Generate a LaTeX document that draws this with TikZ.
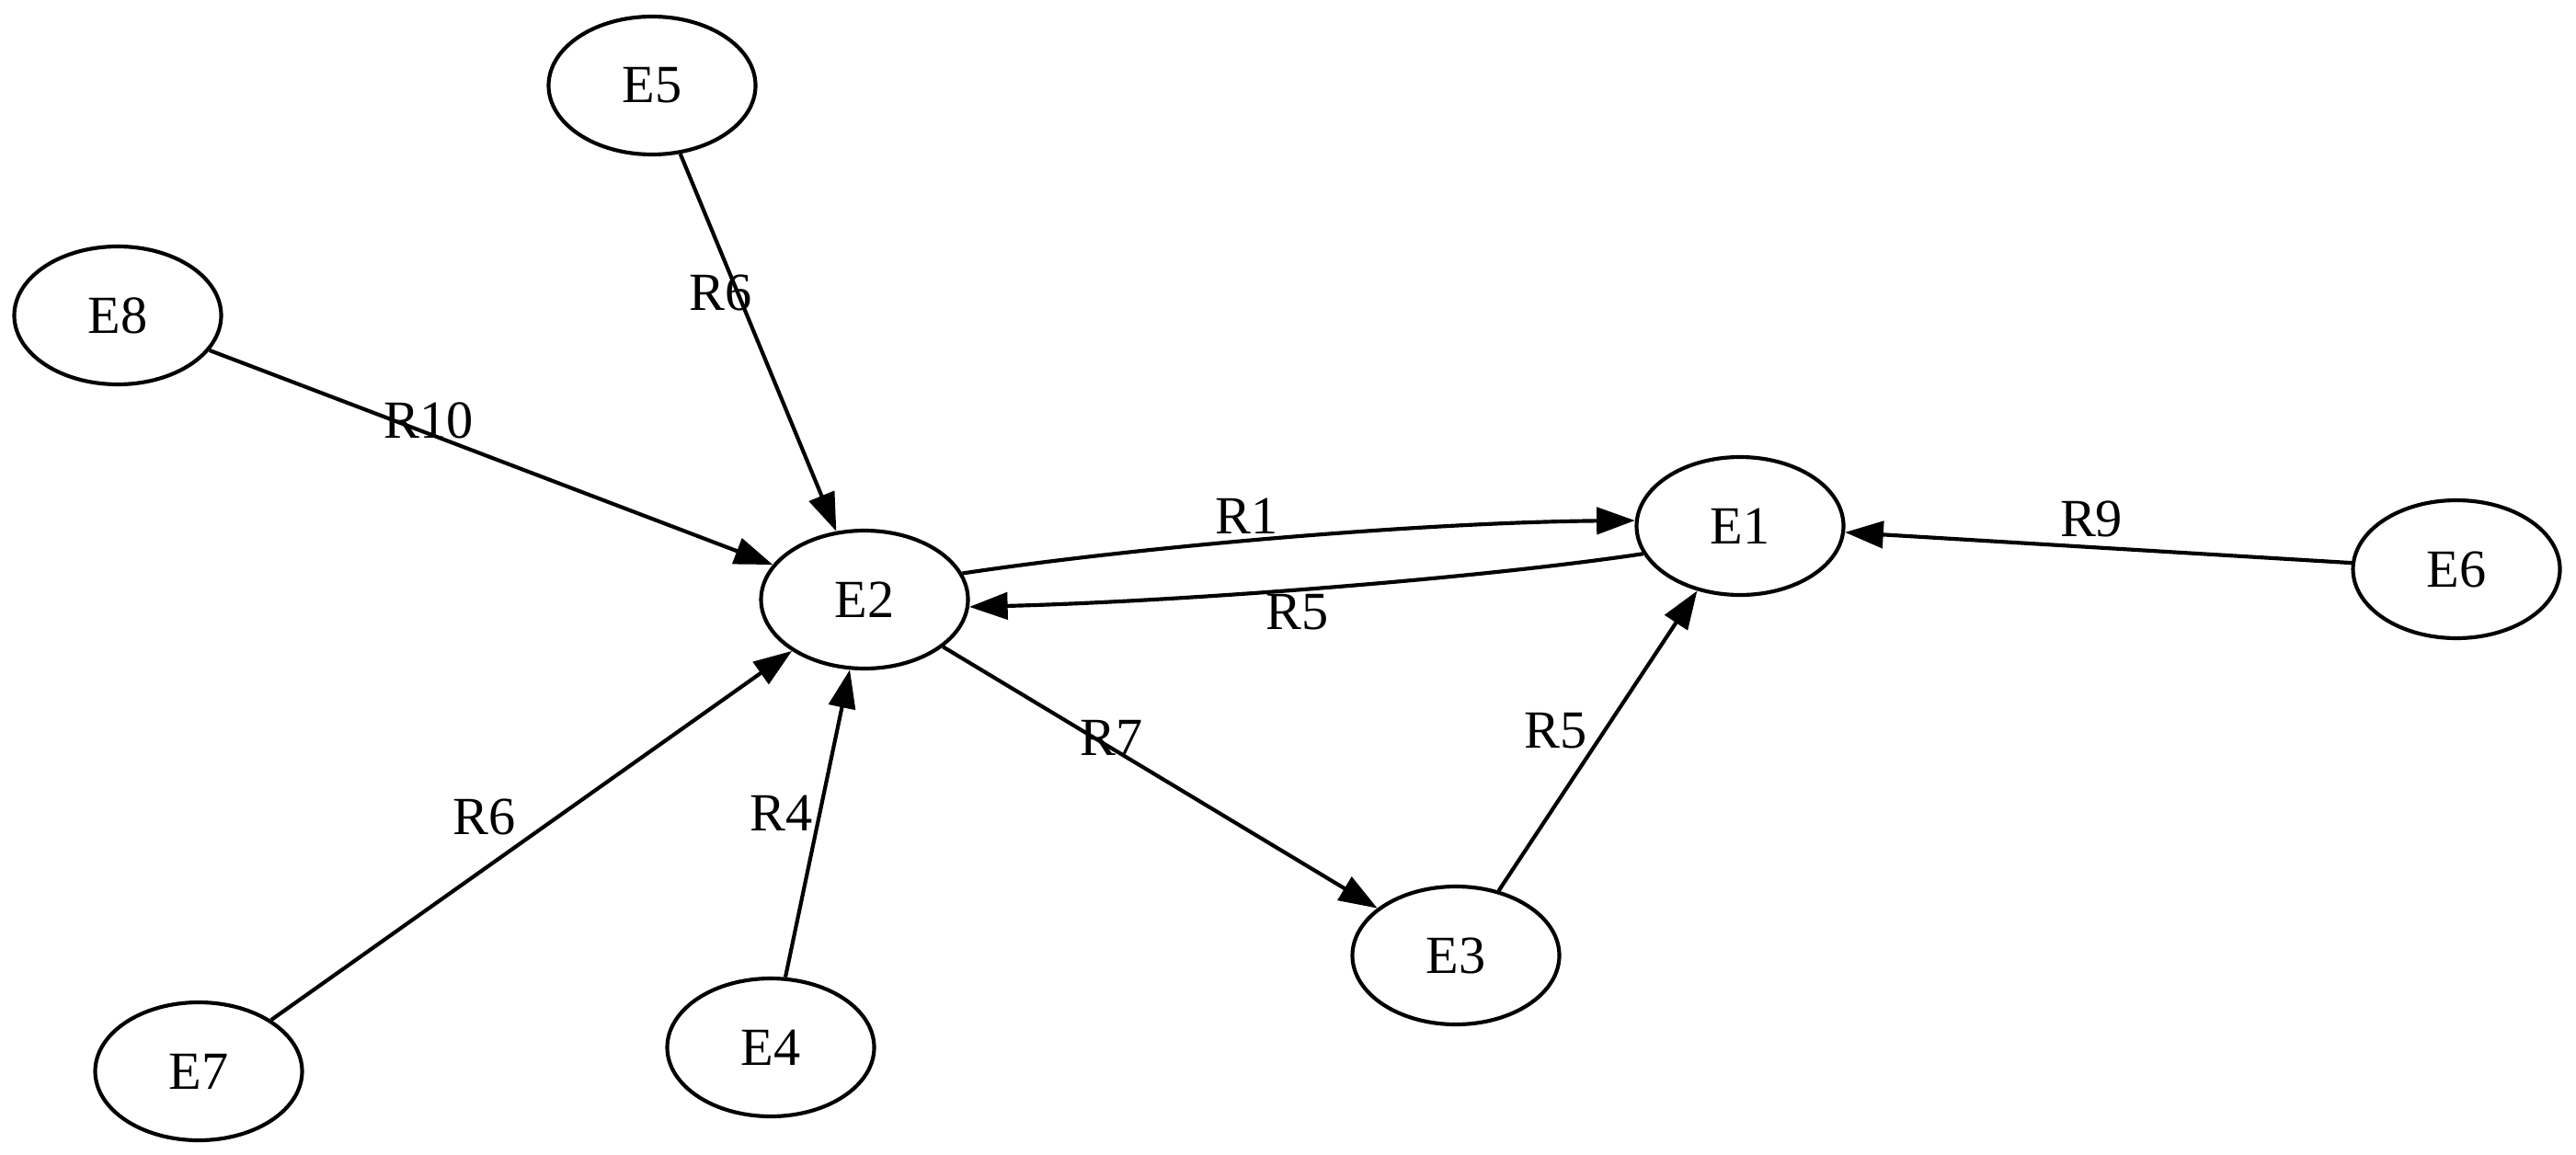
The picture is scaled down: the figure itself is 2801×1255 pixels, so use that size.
\documentclass[tikz,border=0pt]{standalone}
\usepackage{fontspec}
\setmainfont{Liberation Serif}
\usetikzlibrary{shapes.geometric,arrows.meta}
\begin{document}
\begin{tikzpicture}[x=0.24pt,y=-0.24pt,
  ent/.style={draw,ellipse,line width=1pt,minimum width=54pt,minimum height=36pt,inner sep=0pt,font=\fontsize{14pt}{16pt}\selectfont},
  rel/.style={line width=1pt,-{Triangle[length=10pt,width=7pt]}},
  lab/.style={inner sep=0pt,font=\fontsize{14pt}{16pt}\selectfont}]
\useasboundingbox (0,0) rectangle (2801,1255);
% entities
\node[ent] (E5) at (709,93) {E5};
\node[ent] (E8) at (128,343) {E8};
\node[ent] (E2) at (940,652) {E2};
\node[ent] (E1) at (1892,572) {E1};
\node[ent] (E6) at (2671,619) {E6};
\node[ent] (E3) at (1583,1039) {E3};
\node[ent] (E4) at (838,1139) {E4};
\node[ent] (E7) at (216,1165) {E7};
% relations
\draw[rel] (E5) -- (E2);
\draw[rel] (E8) -- (E2);
\draw[rel] (E2.15) .. controls (1250,593) and (1554,568) .. (E1.177);
\draw[rel] (E1.196) .. controls (1608,629) and (1286,654) .. (E2.-4);
\draw[rel] (E6) -- (E1);
\draw[rel] (E3) -- (E1);
\draw[rel] (E2) -- (E3);
\draw[rel] (E7) -- (E2);
\draw[rel] (E4) -- (E2);
% relation labels
\node[lab] (l56) at (784,318) {R6};
\node[lab] (l82) at (466,457) {R10};
\node[lab] (l21) at (1356,561) {R1};
\node[lab] (l12) at (1411,666) {R5};
\node[lab] (l61) at (2274,564) {R9};
\node[lab] (l31) at (1692,795) {R5};
\node[lab] (l23) at (1209,802) {R7};
\node[lab] (l72) at (527,888) {R6};
\node[lab] (l42) at (850,884) {R4};
\end{tikzpicture}
\end{document}
